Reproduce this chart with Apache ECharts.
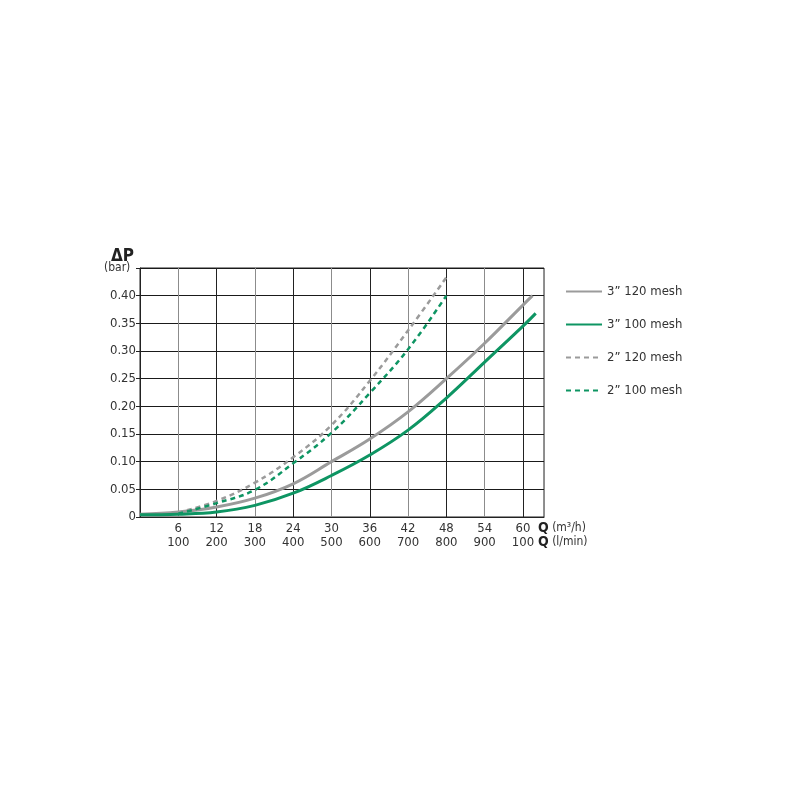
<!DOCTYPE html>
<html>
<head>
<meta charset="utf-8">
<script src="https://cdn.jsdelivr.net/npm/echarts@6/dist/echarts.min.js"></script>
<style>
  html, body { margin: 0; padding: 0; background: #fff; }
  #chart { width: 800px; height: 800px; }
</style>
</head>
<body>
<div id="chart"></div>
<script>
// flow Q (m3/h) and pressure drop (bar)
var q3in120 = [0, 6, 12, 18, 24, 30, 36, 42, 48, 54, 60, 61.5];
var dp3in120 = [0.005, 0.009, 0.018, 0.034, 0.060, 0.100, 0.141, 0.190, 0.250, 0.314, 0.383, 0.400];
var q3in100 = [0, 6, 12, 18, 24, 30, 36, 42, 48, 54, 60, 62];
var dp3in100 = [0.004, 0.005, 0.009, 0.021, 0.043, 0.075, 0.112, 0.157, 0.215, 0.280, 0.345, 0.368];
var q2in = [6, 12, 18, 24, 30, 36, 42, 48];
var dp2in120 = [0.008, 0.029, 0.062, 0.108, 0.166, 0.246, 0.337, 0.433];
var dp2in100 = [0.006, 0.025, 0.049, 0.097, 0.152, 0.224, 0.303, 0.400];

var seriesNames = ['3\u201D 120 mesh', '3\u201D 100 mesh', '2\u201D 120 mesh', '2\u201D 100 mesh'];
var qTicks = [6, 12, 18, 24, 30, 36, 42, 48, 54, 60];
var flowLabels = ['100', '200', '300', '400', '500', '600', '700', '800', '900', '100'];

var GRAY = '#9b9b9b';
var GREEN = '#0e9563';
var FONT = '"Liberation Sans Narrow", "DejaVu Sans Condensed", sans-serif';

function pairs(xs, ys) {
  return xs.map(function (x, i) { return [x, ys[i]]; });
}

function makeLine(name, data, color, dashed) {
  return {
    name: name,
    type: 'line',
    data: data,
    smooth: 0.4,
    symbol: 'none',
    lineStyle: {
      color: color,
      width: dashed ? 2.5 : 3,
      type: dashed ? [5, 4] : 'solid'
    },
    itemStyle: { color: color }
  };
}

var chart = echarts.init(document.getElementById('chart'));
chart.setOption({
  animation: false,
  grid: {
    left: 140,
    right: 256,
    top: 268,
    bottom: 283,
    show: true,
    borderColor: '#222',
    borderWidth: 1
  },
  legend: {
    orient: 'vertical',
    left: 560,
    top: 280,
    itemWidth: 36,
    itemHeight: 14,
    itemGap: 20,
    data: seriesNames,
    itemStyle: { opacity: 0 },
    textStyle: { fontFamily: FONT, fontSize: 13, color: '#333' }
  },
  xAxis: {
    type: 'value',
    min: 0,
    max: 63.3,
    interval: 6,
    axisLine: { show: true, lineStyle: { color: '#222' } },
    axisTick: { show: false },
    splitLine: {
      show: true,
      lineStyle: { color: ['#222', '#8c8c8c'], width: 1 }
    },
    axisLabel: {
      showMinLabel: true,
      showMaxLabel: true,
      color: '#333',
      fontFamily: FONT,
      fontSize: 13,
      lineHeight: 14,
      margin: 5,
      formatter: function (v) {
        var i = qTicks.indexOf(v);
        return i < 0 ? '' : v + '\n' + flowLabels[i];
      }
    },
    name: '{b|Q} (m\u00B3/h)\n{b|Q} (l/min)',
    nameLocation: 'end',
    nameGap: -15,
    nameTextStyle: {
      color: '#333',
      fontFamily: FONT,
      fontSize: 12,
      lineHeight: 14,
      align: 'left',
      verticalAlign: 'top',
      padding: [4, 0, 0, 0],
      rich: {
        b: { fontWeight: 'bold', fontSize: 14, fontFamily: FONT, color: '#222' }
      }
    }
  },
  yAxis: {
    type: 'value',
    min: 0,
    max: 0.45,
    interval: 0.05,
    axisLine: { show: true, lineStyle: { color: '#222' } },
    axisTick: { show: true, inside: false, length: 4, lineStyle: { color: '#222' } },
    splitLine: { show: true, lineStyle: { color: '#1a1a1a', width: 1 } },
    axisLabel: {
      color: '#333',
      fontFamily: FONT,
      fontSize: 13,
      margin: 4,
      formatter: function (v) {
        if (v > 0.42) return '';
        return v === 0 ? '0' : v.toFixed(2);
      }
    }
  },
  graphic: [
    {
      type: 'text',
      left: 111,
      top: 248,
      style: { text: '\u0394P', font: 'bold 17px ' + FONT, fill: '#222' }
    },
    {
      type: 'text',
      left: 104,
      top: 262,
      style: { text: '(bar)', font: '12px ' + FONT, fill: '#333' }
    }
  ],
  series: [
    makeLine(seriesNames[0], pairs(q3in120, dp3in120), GRAY, false),
    makeLine(seriesNames[1], pairs(q3in100, dp3in100), GREEN, false),
    makeLine(seriesNames[2], pairs(q2in, dp2in120), GRAY, true),
    makeLine(seriesNames[3], pairs(q2in, dp2in100), GREEN, true)
  ]
});
</script>
</body>
</html>
